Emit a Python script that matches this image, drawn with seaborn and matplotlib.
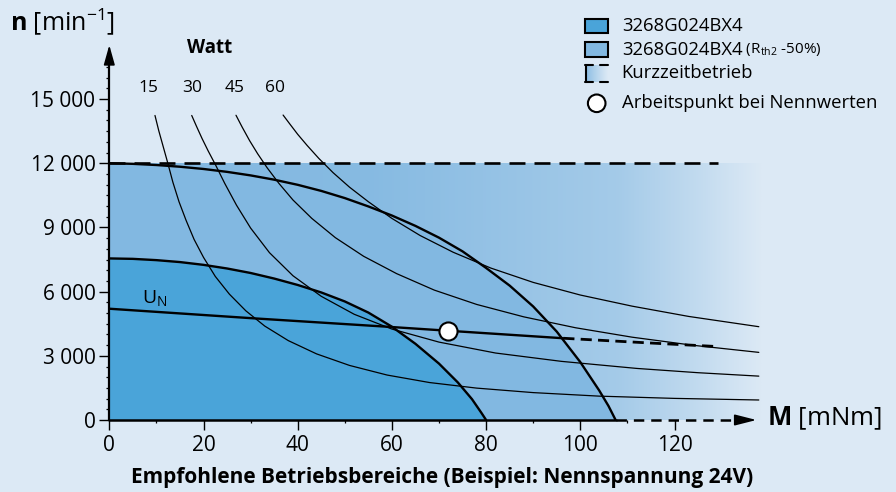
import numpy as np
import pandas as pd
import matplotlib
matplotlib.use("Agg")
import matplotlib.pyplot as plt
from matplotlib.colors import LinearSegmentedColormap, to_rgb
from matplotlib.patches import Rectangle, Circle
import seaborn as sns

# ---- values (M in mNm, n in 1/min) ----
watt_labels = ["15", "30", "45", "60"]
watt_label_m = [8.4, 17.5, 26.7, 35.2]

p15_m = [9.7, 10.5, 11.4, 12.4, 13.5, 14.8, 16.3, 18, 20, 22.5, 25.5, 29, 33, 38, 44, 51, 59,
         68, 78, 90, 104, 120, 137.9]
p15_n = [14230, 13520, 12810, 12020, 11110, 10200, 9330, 8440, 7600, 6710, 5880, 5100, 4390,
         3710, 3090, 2550, 2100, 1750, 1490, 1280, 1115, 1010, 935]

p30_m = [17.5, 18.5, 19.7, 21, 22.65, 24.5, 27, 30, 34, 39, 45, 52, 60, 70, 82, 96, 112, 125, 137.9]
p30_n = [14230, 13730, 13150, 12570, 11880, 11060, 10040, 8970, 7820, 6740, 5780, 4940, 4250,
         3640, 3130, 2740, 2410, 2210, 2050]

p45_m = [26.9, 28.2, 29.8, 31.5, 33.5, 36, 39, 43, 48, 54, 61, 69, 78, 88, 99, 111, 124, 137.9]
p45_n = [14240, 13690, 13050, 12440, 11790, 11060, 10280, 9420, 8520, 7650, 6840, 6070, 5400,
         4820, 4310, 3870, 3490, 3160]

p60_m = [36.9, 38.3, 40, 42, 44.5, 47.5, 51, 55, 60, 66, 73, 81, 90, 100, 111, 123, 137.9]
p60_n = [14250, 13840, 13350, 12830, 12220, 11560, 10880, 10200, 9420, 8620, 7840, 7100, 6430,
         5840, 5320, 4840, 4360]

# 3268G024BX4 (Rth2 -50%) boundary
outer_m = [0, 5, 10, 15, 20, 25, 30, 35, 40, 45, 50, 55, 60, 65, 70, 75, 80, 85, 90, 95, 100,
           104, 106, 107.5]
outer_n = [12000, 11970, 11915, 11835, 11730, 11595, 11430, 11230, 10990, 10705, 10370, 9980,
           9555, 9070, 8520, 7880, 7105, 6280, 5305, 4130, 2705, 1385, 650, 0]

# 3268G024BX4 boundary
inner_m = [0, 5, 10, 15, 20, 25, 30, 35, 40, 45, 50, 55, 60, 65, 70, 74, 77, 79, 80]
inner_n = [7550, 7530, 7470, 7380, 7250, 7080, 6870, 6610, 6310, 5960, 5540, 5020, 4360, 3560,
           2635, 1755, 975, 335, 0]

# U_N characteristic
un_m = [0, 30, 58.9, 72, 96.4]
un_n = [5200, 4760, 4360, 4170, 3820]
un_dash_m = [96.4, 113, 129.3]
un_dash_n = [3820, 3620, 3430]

limit_m = [0, 129.3]
limit_n = [12000, 12000]

point_m = [72]
point_n = [4170]

x_ticks = [0, 20, 40, 60, 80, 100, 120]
x_minor = [10, 30, 50, 70, 90, 110]
y_ticks = [0, 3000, 6000, 9000, 12000, 15000]
y_tick_labels = ["0", "3 000", "6 000", "9 000", "12 000", "15 000"]

legend_labels = ["3268G024BX4", "3268G024BX4", "Kurzzeitbetrieb", "Arbeitspunkt bei Nennwerten"]

# ---- style ----
bg = "#dce9f5"
medium = "#82b8e1"
inner = "#4aa4d9"

sns.set_theme(style="white", rc={"text.color": "black", "axes.labelcolor": "black",
                                 "xtick.color": "black", "ytick.color": "black"})
plt.rcParams["font.family"] = ["Open Sans", "DejaVu Sans"]
plt.rcParams["mathtext.fontset"] = "custom"
plt.rcParams["mathtext.rm"] = "Open Sans"
plt.rcParams["mathtext.bf"] = "Open Sans:bold"
plt.rcParams["mathtext.it"] = "Open Sans:italic"
plt.rcParams["lines.scale_dashes"] = False

fig = plt.figure(figsize=(8.96, 4.92), dpi=100, facecolor=bg)
xmax, ymax = 138.5, 17600
ax = fig.add_axes([109.3 / 896, 72 / 492, xmax * 4.71 / 896, ymax * 0.0214 / 492])
ax.set_facecolor(bg)
for s in ax.spines.values():
    s.set_visible(False)

# gradient "Kurzzeitbetrieb" area
mb, bb = np.array(to_rgb(medium)), np.array(to_rgb(bg))
mix = lambda f: tuple(mb + (bb - mb) * f)
cmap = LinearSegmentedColormap.from_list(
    "kz", [(0, mix(0)), (0.40, mix(0.05)), (0.78, mix(0.38)), (0.90, mix(0.70)), (1, mix(1))])
ax.imshow(np.linspace(0, 1, 256)[None, :], extent=[0, 138.5, 0, 12000], aspect="auto",
          cmap=cmap, zorder=0.5)

ax.fill_between(outer_m, outer_n, 0, color=medium, lw=0, zorder=1)
ax.fill_between(inner_m, inner_n, 0, color=inner, lw=0, zorder=1.2)

# constant power curves
power = pd.concat([
    pd.DataFrame({"M": m, "n": n, "P": p})
    for p, m, n in zip(watt_labels, [p15_m, p30_m, p45_m, p60_m], [p15_n, p30_n, p45_n, p60_n])
])
sns.lineplot(data=power, x="M", y="n", units="P", estimator=None, sort=False,
             color="black", lw=0.9, ax=ax, zorder=2)

sns.lineplot(x=outer_m, y=outer_n, color="black", lw=1.7, sort=False, ax=ax, zorder=3)
sns.lineplot(x=inner_m, y=inner_n, color="black", lw=1.7, sort=False, ax=ax, zorder=3)
sns.lineplot(x=un_m, y=un_n, color="black", lw=1.7, sort=False, ax=ax, zorder=3)
sns.lineplot(x=un_dash_m, y=un_dash_n, color="black", lw=2.0, sort=False, ax=ax, zorder=3)
ax.lines[-1].set_dashes((8, 4.5))
sns.lineplot(x=limit_m, y=limit_n, color="black", lw=1.9, sort=False, ax=ax, zorder=3)
ax.lines[-1].set_dashes((11.5, 6.5))

sns.scatterplot(x=point_m, y=point_n, s=170, color="white", edgecolor="black",
                linewidth=1.5, ax=ax, zorder=6)

# axes with arrows
ax.plot([0, 0], [0, 16900], color="black", lw=1.6, clip_on=False, zorder=7)
ax.annotate("", xy=(0, 17520), xytext=(0, 16700),
            arrowprops=dict(arrowstyle="-|>,head_length=1.0,head_width=0.28", color="black",
                            lw=1.2, shrinkA=0, shrinkB=0, mutation_scale=12), annotation_clip=False)
ax.plot([0, 107.5], [0, 0], color="black", lw=1.8, clip_on=False, zorder=7)
ax.plot([107.5, 133.5], [0, 0], color="black", lw=1.8, clip_on=False, zorder=7)
ax.lines[-1].set_dashes((7.5, 5))
ax.annotate("", xy=(137.4, 0), xytext=(133, 0),
            arrowprops=dict(arrowstyle="-|>,head_length=1.1,head_width=0.28", color="black",
                            lw=1.2, shrinkA=0, shrinkB=0, mutation_scale=12), annotation_clip=False)

ax.set_xlim(0, xmax)
ax.set_ylim(0, ymax)
ax.set_xticks(x_ticks)
ax.set_xticks(x_minor, minor=True)
ax.set_yticks(y_ticks)
ax.set_yticklabels(y_tick_labels)
ax.set_yticks(np.arange(0, 17000, 500), minor=True)
ax.tick_params(which="major", direction="out", length=7, width=1, color="black",
               labelsize=15, labelcolor="black")
ax.tick_params(axis="y", which="major", pad=3)
ax.tick_params(axis="x", which="major", pad=4)
ax.tick_params(which="minor", direction="out", length=2.4, width=0.9, color="black")
ax.tick_params(bottom=True, left=True, which="both")
ax.set_xlabel("")
ax.set_ylabel("")

# labels inside the plot
ax.text(21.2, 17380, "Watt", fontsize=13.5, fontweight="bold", ha="center", va="center")
for lab, m in zip(watt_labels, watt_label_m):
    ax.text(m, 15510, lab, fontsize=12.5, ha="center", va="center")
ax.text(6.9, 5700, r"U$_\mathrm{N}$", fontsize=14, ha="left", va="center")

# overlay in pixel coordinates for titles and legend
ov = fig.add_axes([0, 0, 1, 1], zorder=10)
ov.axis("off")

ov.text(10, 22, r"$\mathbf{n}$ [min$^{-1}$]", fontsize=18, ha="left", va="center")
ov.text(767, 418, r"$\mathbf{M}$ [mNm]", fontsize=18.5, ha="left", va="center")
ov.text(442, 478, "Empfohlene Betriebsbereiche (Beispiel: Nennspannung 24V)",
        fontsize=15, fontweight="bold", ha="center", va="center",
        family=["Liberation Sans Narrow", "Open Sans"])

# legend
ov.add_patch(Rectangle((585, 19.3), 23, 14, fc=inner, ec="black", lw=1.5))
ov.add_patch(Rectangle((585, 42.3), 23, 15, fc=medium, ec="black", lw=1.5))
ov.imshow(np.linspace(0, 1, 64)[None, :] ** 0.8, extent=[585, 608, 81.7, 65], aspect="auto",
          cmap=LinearSegmentedColormap.from_list("lg", [medium, bg]))
ov.plot([586, 586], [65, 81.7], color="black", lw=1.5)
for y in (65, 81.7):
    ov.plot([585, 593], [y, y], color="black", lw=1.5)
    ov.plot([600, 608], [y, y], color="black", lw=1.5)
ov.add_patch(Circle((596.7, 103.3), 8.8, fc="white", ec="black", lw=1.5))

leg_y = [26.3, 49.8, 73.3, 103.3]
for lab, y in zip(legend_labels, leg_y):
    t = ov.text(621.7, y, lab, fontsize=13.3, ha="left", va="center")
    if y == leg_y[1]:
        ov.annotate(r" (R$_\mathrm{th2}$ -50%)", xy=(1, 0.5), xycoords=t, fontsize=11,
                    ha="left", va="center")

ov.set_xlim(0, 896)
ov.set_ylim(492, 0)

fig.savefig("out.png", dpi=100, facecolor=bg)
